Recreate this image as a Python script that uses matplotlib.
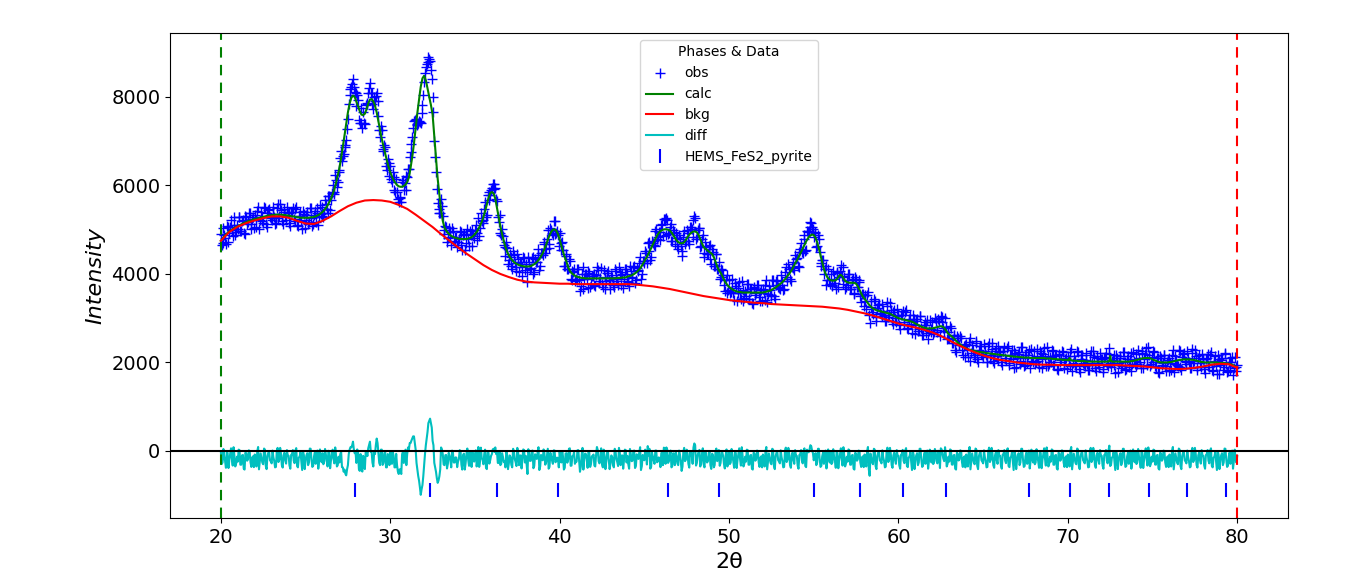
import numpy as np
import matplotlib
matplotlib.use("Agg")
import matplotlib.pyplot as plt

# ---- scan definition (2theta step scan, 0.05 deg; stored as two interleaved sets) ----
TTH_START, TTH_END = 20.0, 80.0
HALF_STEP = 0.05

# ---- observed intensities at 20.0, 20.1, ... 80.0 (one row per degree) ----
obs_rows = [
    [4900, 4710, 4890, 4680, 5050, 4930, 5220, 4850, 5100, 4940],
    [5010, 5290, 4980, 5220, 4910, 5280, 5170, 5370, 5020, 5280],
    [5330, 5070, 5520, 5210, 5290, 5160, 5500, 5070, 5450, 5280],
    [5220, 5360, 5140, 5500, 5260, 5580, 5190, 5400, 5300, 5510],
    [5380, 5080, 5400, 5250, 5470, 5110, 5300, 5410, 5010, 5350],
    [5230, 5390, 5180, 5500, 5090, 5340, 5180, 5500, 5280, 5360],
    [5520, 5380, 5580, 5370, 5770, 5660, 6000, 5810, 6130, 6070],
    [6310, 6770, 6670, 6880, 7020, 7500, 8050, 8230, 8410, 8120],
    [7800, 7920, 7400, 7400, 7650, 7380, 7870, 8080, 8320, 8100],
    [7720, 7900, 8100, 7570, 7100, 7250, 6780, 6870, 6360, 6500],
    [6450, 6080, 6180, 5860, 5860, 5630, 5720, 6070, 5890, 6220],
    [6180, 6380, 6750, 7100, 7450, 7500, 7390, 7450, 7410, 7820],
    [8330, 8680, 8800, 8850, 8620, 8000, 7000, 6300, 5600, 5380],
    [5700, 5300, 4900, 5060, 4810, 4950, 4660, 4970, 4730, 4830],
    [4730, 4980, 4650, 4870, 4540, 4900, 4780, 4980, 4640, 4910],
    [4990, 4770, 5270, 5030, 5190, 5160, 5620, 5330, 5850, 5790],
    [5950, 6040, 5950, 5650, 5180, 4930, 5020, 4660, 4410, 4590],
    [4310, 4390, 4110, 4430, 4160, 4460, 4050, 4260, 4150, 4360],
    [4230, 3820, 4270, 4130, 4380, 4050, 4270, 4430, 4080, 4480],
    [4430, 4680, 4570, 4990, 4680, 5000, 4880, 5190, 4920, 4890],
    [4930, 4550, 4540, 4170, 4400, 4120, 4300, 3860, 4050, 3840],
    [3870, 4120, 3620, 3990, 3660, 4010, 3880, 4070, 3710, 3950],
    [3990, 3720, 4160, 3840, 3910, 3770, 4100, 3660, 4030, 3860],
    [3790, 3930, 3700, 4060, 3830, 4150, 3760, 3990, 3890, 4110],
    [4000, 3720, 4060, 3930, 4180, 3860, 4080, 4240, 3890, 4300],
    [4250, 4470, 4700, 4720, 4390, 4710, 4630, 5010, 4840, 4940],
    [5100, 4850, 5240, 5260, 4900, 5060, 4740, 5000, 4670, 4820],
    [4570, 4790, 4410, 4840, 4680, 5000, 4740, 5070, 5020, 5210],
    [5260, 4840, 5030, 4610, 4790, 4480, 4730, 4450, 4630, 4330],
    [4560, 4180, 4440, 4110, 4270, 3930, 4090, 3750, 3870, 3570],
    [3860, 3590, 3690, 3420, 3730, 3570, 3820, 3430, 3640, 3460],
    [3510, 3770, 3440, 3660, 3330, 3690, 3560, 3750, 3390, 3630],
    [3670, 3410, 3860, 3550, 3630, 3510, 3860, 3440, 3840, 3700],
    [3660, 3830, 3640, 4040, 3850, 4220, 3880, 4160, 4130, 4430],
    [4360, 4150, 4560, 4490, 4800, 4530, 4970, 4970, 5170, 5070],
    [4840, 4940, 4630, 4800, 4240, 4310, 3990, 4180, 3870, 3870],
    [4010, 3760, 3890, 3650, 4020, 3930, 4210, 3780, 3930, 3710],
    [3740, 3990, 3660, 3880, 3550, 3890, 3700, 3810, 3370, 3540],
    [3530, 3210, 3600, 2900, 3260, 3090, 3400, 2940, 3300, 3120],
    [3040, 3170, 2930, 3280, 3030, 3340, 2930, 3130, 3010, 3210],
    [3060, 2760, 3080, 2920, 3140, 2780, 2960, 3070, 2660, 2980],
    [2840, 2980, 2750, 3040, 2610, 2840, 2660, 2950, 2710, 2760],
    [2920, 2690, 2930, 2690, 2930, 3050, 2910, 2720, 2810, 2550],
    [2560, 2790, 2430, 2610, 2240, 2560, 2400, 2560, 2170, 2390],
    [2410, 2120, 2550, 2220, 2280, 2130, 2450, 2000, 2370, 2190],
    [2120, 2250, 2010, 2370, 2120, 2440, 2040, 2260, 2150, 2370],
    [2230, 1940, 2260, 2110, 2330, 1980, 2160, 2280, 1870, 2210],
    [2090, 2240, 2030, 2340, 1920, 2160, 1990, 2290, 2040, 2090],
    [2250, 2010, 2140, 1890, 2220, 2070, 2330, 1930, 2150, 1970],
    [2020, 2270, 1940, 2160, 1820, 2180, 2050, 2230, 1870, 2110],
    [2140, 1920, 2310, 1980, 2050, 1910, 2230, 1790, 2160, 1990],
    [1920, 2050, 1820, 2180, 1940, 2260, 1870, 2090, 1990, 2210],
    [2080, 1790, 2120, 1970, 2200, 1980, 2040, 2160, 1760, 2100],
    [1980, 2140, 1930, 2240, 1830, 2070, 1900, 2210, 1970, 2030],
    [2200, 1970, 2110, 1870, 2210, 2070, 2330, 1940, 2160, 1970],
    [2000, 2240, 1900, 2100, 1760, 2110, 1980, 2170, 1810, 2050],
    [2100, 1830, 2280, 1970, 2050, 1920, 2260, 1820, 2200, 2030],
    [1960, 2100, 1870, 2220, 1980, 2290, 1890, 2100, 1990, 2200],
    [2070, 1770, 2100, 1950, 2180, 1830, 2020, 2140, 1740, 2070],
    [1950, 2110, 1900, 2200, 1790, 2020, 1840, 2130, 1870, 1900],
    [1950],
]

# ---- observed intensities at the in-between steps 20.05, 20.15, ... 79.95 ----
obs_mid_rows = [
    [4650, 5040, 4810, 5080, 4730, 5070, 4990, 5280, 4870, 5110],
    [5290, 4970, 5200, 4920, 5300, 5130, 5380, 5120, 5240, 5040],
    [5230, 5420, 5020, 5390, 5190, 5520, 5140, 5370, 5460, 5260],
    [5510, 5280, 5150, 5580, 5310, 5440, 5130, 5460, 5210, 5380],
    [5160, 5390, 5490, 5190, 5520, 5080, 5320, 5200, 5430, 5030],
    [5340, 5120, 5500, 5260, 5120, 5430, 5370, 5100, 5560, 5300],
    [5290, 5680, 5460, 5760, 5440, 5840, 5850, 6240, 5960, 6350],
    [6610, 6550, 6700, 6920, 7280, 7850, 8170, 8300, 8220, 8100],
    [8050, 7490, 7740, 7300, 7410, 7820, 7840, 8200, 8100, 7830],
    [8000, 8030, 7900, 7250, 7350, 6820, 6920, 6440, 6590, 6210],
    [6150, 6310, 5890, 6140, 5700, 5730, 5620, 6130, 6060, 5900],
    [6380, 6640, 6930, 7300, 7480, 7370, 7400, 7440, 7630, 8050],
    [8530, 8740, 8900, 8810, 8410, 7650, 6650, 5930, 5470, 5370],
    [5530, 4990, 5090, 4730, 5040, 4830, 5030, 4740, 4840, 4610],
    [4780, 4950, 4540, 4900, 4690, 5020, 4640, 4870, 4990, 4810],
    [5110, 4920, 4860, 5380, 5210, 5460, 5290, 5780, 5660, 5900],
    [6040, 5910, 5700, 5290, 5330, 4870, 4860, 4610, 4720, 4220],
    [4460, 4190, 4510, 4240, 4060, 4340, 4260, 3960, 4380, 4080],
    [4040, 4380, 4120, 4360, 3990, 4330, 4260, 4570, 4190, 4480],
    [4720, 4470, 4790, 4590, 5040, 4930, 5190, 4910, 4960, 4640],
    [4690, 4730, 4190, 4440, 4120, 4330, 3880, 4060, 4120, 3880],
    [4120, 3870, 3730, 4150, 3880, 4000, 3690, 4030, 3780, 3960],
    [3740, 3980, 4090, 3790, 4130, 3700, 3940, 3830, 4060, 3660],
    [3970, 3750, 4120, 3890, 3740, 4040, 3980, 3690, 4120, 3840],
    [3820, 4170, 3910, 4160, 3800, 4140, 4070, 4380, 4010, 4300],
    [4520, 4250, 4530, 4310, 4750, 4660, 4970, 4780, 4950, 4770],
    [5140, 5250, 4890, 5210, 4930, 5140, 4740, 4940, 4930, 4630],
    [4890, 4640, 4510, 4960, 4740, 4930, 4680, 5060, 4830, 5300],
    [4790, 4990, 5030, 4630, 4880, 4390, 4600, 4460, 4660, 4230],
    [4490, 4180, 4450, 4110, 3890, 4120, 3970, 3610, 3980, 3640],
    [3570, 3880, 3580, 3790, 3390, 3690, 3580, 3840, 3400, 3620],
    [3780, 3440, 3650, 3350, 3710, 3530, 3760, 3490, 3600, 3380],
    [3570, 3760, 3360, 3730, 3530, 3870, 3500, 3750, 3870, 3690],
    [3970, 3760, 3670, 4150, 3930, 4110, 3850, 4260, 4080, 4330],
    [4180, 4500, 4690, 4470, 4890, 4540, 4950, 5050, 5160, 5010],
    [4920, 4620, 4870, 4490, 4180, 4320, 4120, 3740, 4110, 3780],
    [3730, 4060, 3800, 4050, 3710, 4060, 3950, 4160, 3670, 3860],
    [4010, 3660, 3870, 3570, 3920, 3700, 3860, 3510, 3550, 3270],
    [3400, 3530, 3070, 3380, 3140, 3430, 3020, 3230, 3310, 3090],
    [3330, 3080, 2940, 3360, 3080, 3190, 2860, 3180, 2910, 3070],
    [2840, 3070, 3170, 2860, 3190, 2750, 2980, 2860, 3070, 2650],
    [2940, 2700, 3050, 2790, 2630, 2920, 2840, 2540, 2970, 2680],
    [2650, 3000, 2740, 2980, 2600, 3020, 2790, 3010, 2520, 2690],
    [2820, 2450, 2620, 2280, 2600, 2390, 2590, 2290, 2370, 2130],
    [2290, 2460, 2040, 2390, 2170, 2480, 2080, 2290, 2380, 2160],
    [2410, 2160, 2020, 2450, 2170, 2300, 1980, 2320, 2060, 2240],
    [2010, 2250, 2350, 2050, 2380, 1950, 2180, 2070, 2290, 1890],
    [2200, 1970, 2340, 2100, 1940, 2240, 2170, 1880, 2300, 2010],
    [1970, 2310, 2040, 2270, 1880, 2190, 2090, 2340, 1910, 2130],
    [2290, 1940, 2150, 1850, 2200, 2020, 2250, 1970, 2080, 1860],
    [2060, 2240, 1800, 2150, 1940, 2260, 1860, 2080, 2170, 1960],
    [2210, 1960, 1830, 2260, 1990, 2120, 1810, 2150, 1900, 2080],
    [1860, 2100, 2210, 1910, 2320, 1890, 2060, 1950, 2180, 1780],
    [2090, 1870, 2240, 2000, 1850, 2150, 2080, 1800, 2240, 1960],
    [1930, 2280, 2020, 2260, 1880, 2190, 2090, 2350, 1920, 2120],
    [2260, 1910, 2100, 1790, 2140, 1950, 2180, 1910, 2020, 1810],
    [1990, 2180, 1780, 2150, 1950, 2280, 1890, 2120, 2210, 2000],
    [2250, 2010, 1880, 2300, 2030, 2150, 1830, 2160, 1900, 2070],
    [1850, 2080, 2190, 1890, 2230, 1800, 2040, 1930, 2160, 1750],
    [2060, 1840, 2210, 1960, 1810, 2100, 2020, 1710, 2120, 1810],
]

# ---- calculated profile at 20.0, 20.1, ... 80.0 ----
calc_rows = [
    [4750, 4800, 4850, 4890, 4930, 4960, 4990, 5010, 5040, 5060],
    [5080, 5100, 5120, 5140, 5160, 5170, 5190, 5200, 5210, 5230],
    [5240, 5250, 5260, 5270, 5280, 5290, 5300, 5310, 5320, 5320],
    [5330, 5330, 5340, 5340, 5340, 5340, 5340, 5330, 5330, 5320],
    [5320, 5310, 5300, 5300, 5290, 5280, 5280, 5270, 5270, 5270],
    [5270, 5270, 5270, 5280, 5280, 5290, 5300, 5320, 5340, 5370],
    [5400, 5440, 5490, 5550, 5620, 5700, 5800, 5920, 6060, 6220],
    [6400, 6620, 6870, 7130, 7400, 7650, 7850, 7980, 8030, 8000],
    [7900, 7790, 7680, 7600, 7590, 7620, 7720, 7850, 7940, 7950],
    [7900, 7800, 7650, 7450, 7250, 7050, 6880, 6720, 6560, 6420],
    [6300, 6200, 6120, 6060, 6010, 5980, 5970, 5970, 5990, 6020],
    [6080, 6180, 6400, 6650, 6950, 7300, 7640, 7950, 8230, 8420],
    [8480, 8380, 8200, 8000, 7820, 7600, 7100, 6600, 6150, 5780],
    [5450, 5200, 5050, 4980, 4930, 4890, 4860, 4840, 4820, 4810],
    [4800, 4790, 4790, 4790, 4790, 4790, 4800, 4810, 4830, 4860],
    [4900, 4950, 5010, 5090, 5180, 5290, 5420, 5570, 5720, 5830],
    [5850, 5820, 5700, 5500, 5280, 5080, 4900, 4740, 4610, 4500],
    [4420, 4360, 4310, 4270, 4240, 4220, 4200, 4190, 4180, 4170],
    [4170, 4170, 4170, 4180, 4200, 4220, 4250, 4290, 4340, 4400],
    [4470, 4560, 4660, 4770, 4870, 4950, 5000, 5010, 4980, 4900],
    [4780, 4640, 4500, 4380, 4280, 4150, 4070, 4020, 3990, 3960],
    [3940, 3930, 3920, 3910, 3910, 3900, 3900, 3900, 3900, 3900],
    [3900, 3900, 3900, 3900, 3900, 3900, 3900, 3900, 3900, 3900],
    [3900, 3900, 3900, 3900, 3910, 3910, 3910, 3920, 3920, 3920],
    [3940, 3950, 3960, 3980, 4000, 4030, 4060, 4100, 4150, 4220],
    [4290, 4350, 4420, 4500, 4580, 4660, 4750, 4830, 4900, 4950],
    [4980, 5000, 5010, 5010, 5000, 4980, 4940, 4880, 4820, 4760],
    [4720, 4700, 4690, 4700, 4740, 4800, 4860, 4910, 4940, 4960],
    [4960, 4940, 4880, 4790, 4690, 4610, 4570, 4540, 4510, 4480],
    [4450, 4380, 4280, 4170, 4080, 4030, 3950, 3870, 3800, 3750],
    [3710, 3680, 3650, 3630, 3610, 3600, 3590, 3590, 3580, 3580],
    [3580, 3580, 3580, 3580, 3580, 3580, 3580, 3580, 3580, 3580],
    [3580, 3590, 3600, 3610, 3620, 3640, 3660, 3680, 3710, 3740],
    [3770, 3800, 3840, 3880, 3930, 3980, 4030, 4090, 4160, 4240],
    [4300, 4380, 4460, 4540, 4620, 4700, 4770, 4830, 4870, 4890],
    [4880, 4820, 4720, 4580, 4430, 4260, 4110, 4000, 3930, 3880],
    [3860, 3850, 3850, 3860, 3900, 3960, 3980, 3940, 3870, 3830],
    [3810, 3800, 3800, 3800, 3800, 3780, 3720, 3640, 3560, 3490],
    [3440, 3390, 3340, 3290, 3250, 3220, 3200, 3180, 3170, 3160],
    [3150, 3140, 3130, 3120, 3110, 3100, 3080, 3060, 3040, 3020],
    [3000, 2990, 2980, 2970, 2960, 2950, 2940, 2930, 2920, 2900],
    [2880, 2860, 2840, 2820, 2800, 2790, 2780, 2770, 2770, 2770],
    [2770, 2780, 2790, 2800, 2810, 2820, 2810, 2780, 2730, 2670],
    [2630, 2600, 2570, 2530, 2490, 2450, 2420, 2390, 2360, 2340],
    [2320, 2300, 2290, 2280, 2270, 2260, 2250, 2240, 2240, 2230],
    [2230, 2220, 2210, 2210, 2200, 2200, 2190, 2190, 2180, 2180],
    [2170, 2170, 2160, 2160, 2150, 2150, 2140, 2140, 2130, 2130],
    [2130, 2120, 2120, 2120, 2110, 2110, 2110, 2110, 2100, 2100],
    [2100, 2100, 2100, 2100, 2100, 2100, 2100, 2090, 2090, 2090],
    [2090, 2080, 2080, 2080, 2070, 2070, 2070, 2060, 2060, 2060],
    [2050, 2100, 2050, 2040, 2040, 2040, 2030, 2030, 2030, 2030],
    [2030, 2020, 2020, 2020, 2020, 2020, 2020, 2020, 2020, 2020],
    [2020, 2020, 2020, 2020, 2020, 2150, 2020, 2020, 2020, 2020],
    [2020, 2020, 2020, 2020, 2020, 2020, 2020, 2030, 2030, 2040],
    [2050, 2060, 2070, 2080, 2090, 2100, 2100, 2100, 2100, 2090],
    [2070, 2050, 2040, 2020, 2010, 2000, 2000, 2000, 2000, 2000],
    [2010, 2010, 2020, 2030, 2040, 2050, 2060, 2060, 2070, 2070],
    [2070, 2070, 2070, 2060, 2060, 2050, 2040, 2030, 2020, 2010],
    [2010, 2000, 2000, 2000, 2000, 2000, 2000, 2000, 2000, 1990],
    [1990, 1990, 1990, 1980, 1980, 1970, 1960, 1950, 1930, 1910],
    [1890],
]

# ---- calculated profile read at the in-between steps 20.05 ... 79.95 ----
calc_mid_rows = [
    [4775, 4825, 4870, 4910, 4945, 4975, 5000, 5025, 5050, 5070],
    [5090, 5110, 5130, 5150, 5165, 5180, 5195, 5205, 5220, 5235],
    [5245, 5255, 5265, 5275, 5285, 5295, 5305, 5315, 5320, 5325],
    [5330, 5335, 5340, 5340, 5340, 5340, 5335, 5330, 5325, 5320],
    [5315, 5305, 5300, 5295, 5285, 5280, 5275, 5270, 5270, 5270],
    [5270, 5270, 5275, 5280, 5285, 5295, 5310, 5330, 5355, 5385],
    [5420, 5465, 5520, 5585, 5660, 5750, 5860, 5990, 6140, 6310],
    [6510, 6745, 7000, 7265, 7525, 7750, 7915, 8005, 8015, 7950],
    [7845, 7735, 7640, 7595, 7605, 7670, 7785, 7895, 7945, 7925],
    [7850, 7725, 7550, 7350, 7150, 6965, 6800, 6640, 6490, 6360],
    [6250, 6160, 6090, 6035, 5995, 5975, 5970, 5980, 6005, 6050],
    [6130, 6290, 6525, 6800, 7125, 7470, 7795, 8090, 8325, 8450],
    [8430, 8290, 8100, 7910, 7710, 7350, 6850, 6375, 5965, 5615],
    [5325, 5125, 5015, 4955, 4910, 4875, 4850, 4830, 4815, 4805],
    [4795, 4790, 4790, 4790, 4790, 4795, 4805, 4820, 4845, 4880],
    [4925, 4980, 5050, 5135, 5235, 5355, 5495, 5645, 5775, 5840],
    [5835, 5760, 5600, 5390, 5180, 4990, 4820, 4675, 4555, 4460],
    [4390, 4335, 4290, 4255, 4230, 4210, 4195, 4185, 4175, 4170],
    [4170, 4170, 4175, 4190, 4210, 4235, 4270, 4315, 4370, 4435],
    [4515, 4610, 4715, 4820, 4910, 4975, 5005, 4995, 4940, 4840],
    [4710, 4570, 4440, 4330, 4215, 4110, 4045, 4005, 3975, 3950],
    [3935, 3925, 3915, 3910, 3905, 3900, 3900, 3900, 3900, 3900],
    [3900, 3900, 3900, 3900, 3900, 3900, 3900, 3900, 3900, 3900],
    [3900, 3900, 3900, 3905, 3910, 3910, 3915, 3920, 3920, 3930],
    [3945, 3955, 3970, 3990, 4015, 4045, 4080, 4125, 4185, 4255],
    [4320, 4385, 4460, 4540, 4620, 4705, 4790, 4865, 4925, 4965],
    [4990, 5005, 5010, 5005, 4990, 4960, 4910, 4850, 4790, 4740],
    [4710, 4695, 4695, 4720, 4770, 4830, 4885, 4925, 4950, 4960],
    [4950, 4910, 4835, 4740, 4650, 4590, 4555, 4525, 4495, 4465],
    [4415, 4330, 4225, 4125, 4055, 3990, 3910, 3835, 3775, 3730],
    [3695, 3665, 3640, 3620, 3605, 3595, 3590, 3585, 3580, 3580],
    [3580, 3580, 3580, 3580, 3580, 3580, 3580, 3580, 3580, 3580],
    [3585, 3595, 3605, 3615, 3630, 3650, 3670, 3695, 3725, 3755],
    [3785, 3820, 3860, 3905, 3955, 4005, 4060, 4125, 4200, 4270],
    [4340, 4420, 4500, 4580, 4660, 4735, 4800, 4850, 4880, 4885],
    [4850, 4770, 4650, 4505, 4345, 4185, 4055, 3965, 3905, 3870],
    [3855, 3850, 3855, 3880, 3930, 3970, 3960, 3905, 3850, 3820],
    [3805, 3800, 3800, 3800, 3790, 3750, 3680, 3600, 3525, 3465],
    [3415, 3365, 3315, 3270, 3235, 3210, 3190, 3175, 3165, 3155],
    [3145, 3135, 3125, 3115, 3105, 3090, 3070, 3050, 3030, 3010],
    [2995, 2985, 2975, 2965, 2955, 2945, 2935, 2925, 2910, 2890],
    [2870, 2850, 2830, 2810, 2795, 2785, 2775, 2770, 2770, 2770],
    [2775, 2785, 2795, 2805, 2815, 2815, 2795, 2755, 2700, 2650],
    [2615, 2585, 2550, 2510, 2470, 2435, 2405, 2375, 2350, 2330],
    [2310, 2295, 2285, 2275, 2265, 2255, 2245, 2240, 2235, 2230],
    [2225, 2215, 2210, 2205, 2200, 2195, 2190, 2185, 2180, 2175],
    [2170, 2165, 2160, 2155, 2150, 2145, 2140, 2135, 2130, 2130],
    [2125, 2120, 2120, 2115, 2110, 2110, 2110, 2105, 2100, 2100],
    [2100, 2100, 2100, 2100, 2100, 2100, 2095, 2090, 2090, 2090],
    [2085, 2080, 2080, 2075, 2070, 2070, 2065, 2060, 2060, 2055],
    [2055, 2055, 2045, 2040, 2040, 2035, 2030, 2030, 2030, 2030],
    [2025, 2020, 2020, 2020, 2020, 2020, 2020, 2020, 2020, 2020],
    [2020, 2020, 2020, 2020, 2030, 2030, 2020, 2020, 2020, 2020],
    [2020, 2020, 2020, 2020, 2020, 2020, 2025, 2030, 2035, 2045],
    [2055, 2065, 2075, 2085, 2095, 2100, 2100, 2100, 2095, 2080],
    [2060, 2045, 2030, 2015, 2005, 2000, 2000, 2000, 2000, 2005],
    [2010, 2015, 2025, 2035, 2045, 2055, 2060, 2065, 2070, 2070],
    [2070, 2070, 2065, 2060, 2055, 2045, 2035, 2025, 2015, 2010],
    [2005, 2000, 2000, 2000, 2000, 2000, 2000, 2000, 1995, 1990],
    [1990, 1990, 1985, 1980, 1975, 1965, 1955, 1940, 1920, 1900],
]

# ---- background (0.5 deg steps, 20.0 ... 80.0) ----
bkg_vals = [
    4750, 4950, 5070, 5150, 5210, 5260, 5300, 5300, 5270, 5200,
    5140, 5130, 5200, 5300, 5420, 5530, 5610, 5660, 5670, 5660,
    5630, 5560, 5470, 5340, 5200, 5060, 4900, 4750, 4600, 4460,
    4330, 4200, 4090, 4000, 3930, 3870, 3830, 3810, 3800, 3790,
    3780, 3780, 3770, 3770, 3770, 3770, 3770, 3770, 3770, 3760,
    3740, 3720, 3690, 3660, 3620, 3580, 3540, 3500, 3470, 3440,
    3410, 3390, 3370, 3350, 3340, 3320, 3310, 3300, 3290, 3280,
    3270, 3260, 3240, 3220, 3190, 3150, 3110, 3060, 3000, 2940,
    2880, 2830, 2790, 2740, 2680, 2600, 2500, 2400, 2310, 2230,
    2160, 2100, 2060, 2030, 2000, 1980, 1960, 1950, 1950, 1940,
    1940, 1940, 1940, 1940, 1940, 1940, 1940, 1930, 1920, 1910,
    1890, 1870, 1860, 1850, 1860, 1880, 1910, 1950, 1970, 1960,
    1880,
]

# ---- reflection positions of the phase ----
phase_name = "HEMS_FeS2_pyrite"
refl_pos = [27.93, 32.36, 36.31, 39.92, 46.40, 49.41, 55.01, 57.72,
            60.26, 62.80, 67.71, 70.13, 72.45, 74.81, 77.04, 79.34]
REFL_LEVEL = -890
DIFF_OFFSET = -170

obs_a = np.array([v for r in obs_rows for v in r], dtype=float)
obs_b = np.array([v for r in obs_mid_rows for v in r], dtype=float)
calc_a = np.array([v for r in calc_rows for v in r], dtype=float)
calc_b = np.array([v for r in calc_mid_rows for v in r], dtype=float)
tth_a = np.linspace(TTH_START, TTH_END, len(obs_a))
tth_b = np.linspace(TTH_START + HALF_STEP, TTH_END - HALF_STEP, len(obs_b))

tth = np.concatenate([tth_a, tth_b])
order = np.argsort(tth)
tth = tth[order]
obs = np.concatenate([obs_a, obs_b])[order]
calc = np.concatenate([calc_a, calc_b])[order]
diff = obs - calc + DIFF_OFFSET

tth_bkg = np.linspace(TTH_START, TTH_END, len(bkg_vals))
bkg = np.array(bkg_vals, dtype=float)

fig = plt.figure(figsize=(13.56, 5.87), dpi=100)
ax = fig.add_axes([0.1254, 0.1175, 0.8245, 0.8263])

ax.plot(tth, obs, linestyle="none", marker="+", color="b", markersize=7,
        markeredgewidth=1.0, label="obs")
ax.plot(tth, calc, color="g", lw=1.5, label="calc")
ax.plot(tth_bkg, bkg, color="r", lw=1.5, label="bkg")
ax.plot(tth, diff, color="c", lw=1.5, label="diff")
ax.axhline(0, color="k", lw=1.5)
ax.plot(refl_pos, [REFL_LEVEL] * len(refl_pos), linestyle="none", marker="|",
        color="b", markersize=10, markeredgewidth=1.5, label=phase_name)
ax.axvline(TTH_START, color="g", ls="--", lw=1.5, dashes=(5, 3.5))
ax.axvline(TTH_END, color="r", ls="--", lw=1.5, dashes=(5, 3.5))

ax.set_xlim(17, 83)
ax.set_ylim(-1515, 9445)
ax.set_xticks([20, 30, 40, 50, 60, 70, 80])
ax.set_yticks([0, 2000, 4000, 6000, 8000])
ax.tick_params(labelsize=14)
ax.set_xlabel("2θ", fontsize=16)
ax.set_ylabel("Intensity", fontsize=16, style="italic")
ax.legend(loc="upper center", title="Phases & Data", fontsize=10,
          title_fontsize=10)

fig.savefig("out.png", dpi=100)
